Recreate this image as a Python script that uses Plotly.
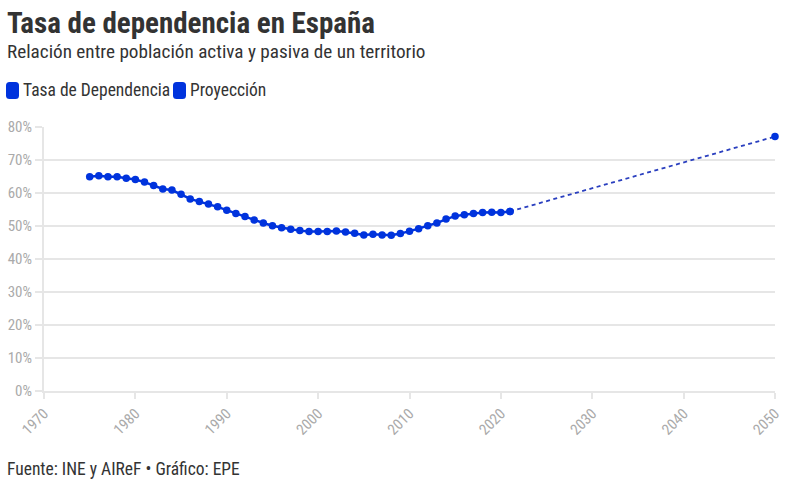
import plotly.graph_objects as go

years = list(range(1975, 2022))
tasa = [64.9, 65.2, 64.9, 64.9, 64.5, 64.1, 63.3, 62.3, 61.2, 60.9,
        59.6, 58.2, 57.4, 56.7, 55.8, 54.8, 53.8, 52.9, 51.8, 50.9,
        50.1, 49.5, 49.0, 48.6, 48.3, 48.3, 48.3, 48.5, 48.2, 47.8,
        47.3, 47.5, 47.3, 47.2, 47.7, 48.4, 49.2, 50.1, 50.9, 52.1,
        53.0, 53.4, 53.8, 54.1, 54.2, 54.1, 54.4]
proy_years = [2021, 2050]
proy = [54.4, 77.1]
y_ticks = [0, 10, 20, 30, 40, 50, 60, 70, 80]
x_ticks = [1970, 1980, 1990, 2000, 2010, 2020, 2030, 2040, 2050]

FONT = "Roboto Condensed, Roboto, sans-serif"
BLUE = "#0033dd"
W, H = 788, 487
# plot area in page pixels: x 44..775, y 127..391
L, T = 44, 127
R, B = W - 775, H - 391
pw, ph = W - L - R, H - T - B

def px(x):
    return (x - L) / pw

def py(y):
    return (H - B - y) / ph

fig = go.Figure()
fig.add_trace(go.Scatter(x=proy_years, y=proy, mode="lines+markers",
                         line=dict(color="#2a3fbf", width=1.8, dash="4px,3.5px"),
                         marker=dict(color=BLUE, size=7.5), cliponaxis=False,
                         showlegend=False, hoverinfo="x+y"))
fig.add_trace(go.Scatter(x=years, y=tasa, mode="lines+markers",
                         line=dict(color=BLUE, width=2.5),
                         marker=dict(color=BLUE, size=7.5),
                         showlegend=False))

def rrect(x0, y0, x1, y1, r):
    X0, X1 = px(x0), px(x1)
    Y0, Y1 = py(y0), py(y1)
    rx, ry = r / pw, r / ph
    return (f"M {X0+rx},{Y0} L {X1-rx},{Y0} Q {X1},{Y0} {X1},{Y0-ry} "
            f"L {X1},{Y1+ry} Q {X1},{Y1} {X1-rx},{Y1} L {X0+rx},{Y1} "
            f"Q {X0},{Y1} {X0},{Y1+ry} L {X0},{Y0-ry} Q {X0},{Y0} {X0+rx},{Y0} Z")

shapes = []
for x0 in (6, 173):
    shapes.append(dict(type="path", xref="paper", yref="paper",
                       path=rrect(x0, 82, x0 + 13, 99, 3.5),
                       fillcolor=BLUE, line=dict(width=0)))

annotations = [
    dict(text="<b>Tasa de dependencia en España</b>", x=px(5), y=py(23), xref="paper", yref="paper",
         xanchor="left", yanchor="middle", showarrow=False, font=dict(family=FONT, size=29, color="#333333")),
    dict(text="Relación entre población activa y pasiva de un territorio", x=px(5), y=py(51),
         xref="paper", yref="paper", xanchor="left", yanchor="middle", showarrow=False,
         font=dict(family=FONT, size=19.2, color="#333333")),
    dict(text="Tasa de Dependencia", x=px(21), y=py(90), xref="paper", yref="paper",
         xanchor="left", yanchor="middle", showarrow=False, font=dict(family=FONT, size=17.5, color="#333333")),
    dict(text="Proyección", x=px(188), y=py(90), xref="paper", yref="paper",
         xanchor="left", yanchor="middle", showarrow=False, font=dict(family=FONT, size=17.5, color="#333333")),
    dict(text="Fuente: INE y AIReF • Gráfico: EPE", x=px(5), y=py(469), xref="paper", yref="paper",
         xanchor="left", yanchor="middle", showarrow=False, font=dict(family=FONT, size=17.5, color="#333333")),
]

fig.update_layout(
    width=W, height=H, margin=dict(l=L, r=R, t=T, b=B),
    paper_bgcolor="white", plot_bgcolor="white",
    font=dict(family=FONT),
    shapes=shapes, annotations=annotations, showlegend=False,
    xaxis=dict(range=[1970, 2050], tickvals=x_ticks, ticktext=[str(v) for v in x_ticks],
               tickangle=-45, showgrid=False, zeroline=False, automargin=False,
               showline=True, linecolor="#e6e6e6", linewidth=2,
               ticks="outside", ticklen=6, tickcolor="#e6e6e6", tickwidth=2,
               tickfont=dict(family=FONT, size=15, color="#aaaaaa")),
    yaxis=dict(range=[0, 80], tickvals=y_ticks, ticktext=[f"{v}%" for v in y_ticks],
               showgrid=True, gridcolor="#e6e6e6", gridwidth=2, zeroline=False, automargin=False,
               showline=True, linecolor="#e6e6e6", linewidth=2,
               ticks="outside", ticklen=7, tickcolor="#e6e6e6", tickwidth=2,
               tickfont=dict(family=FONT, size=15, color="#aaaaaa")),
)

fig.write_html("out.html", config={"displayModeBar": False},
               post_script="document.body.style.margin='0';")
